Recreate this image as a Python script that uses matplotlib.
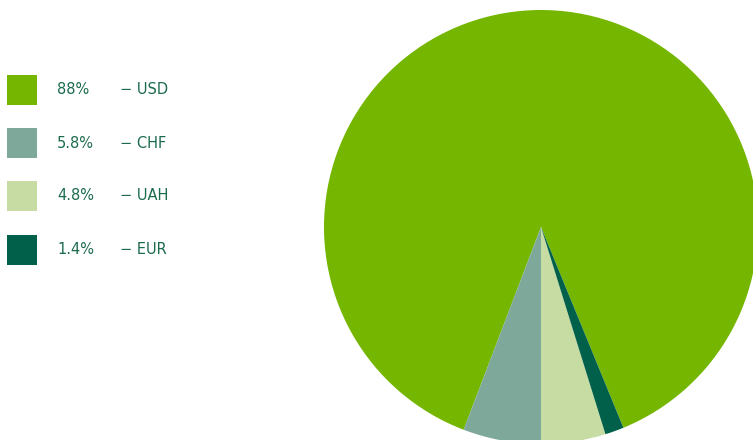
import matplotlib.pyplot as plt
from matplotlib.patches import Rectangle

# currency split
currencies = ['USD', 'CHF', 'UAH', 'EUR']
shares = [88, 5.8, 4.8, 1.4]
share_labels = ['88%', '5.8%', '4.8%', '1.4%']
colors = ['#74b600', '#7ea89a', '#c7dca2', '#00604a']
text_color = '#1c6b4d'

W, H = 753, 440
fig = plt.figure(figsize=(W / 100, H / 100), dpi=100)

# pie: centre at (541, 227) px, radius 217 px
cx, cy, r = 541, 227, 217
ax = fig.add_axes([(cx - r) / W, (H - cy - r) / H, 2 * r / W, 2 * r / H])
start = -90 + (shares[2] + shares[3]) / sum(shares) * 360
ax.pie(shares, colors=colors, startangle=start, counterclock=True,
       wedgeprops=dict(linewidth=0))
ax.set_xlim(-1, 1)
ax.set_ylim(-1, 1)
ax.set_aspect('equal')
ax.axis('off')

# legend drawn by hand on a pixel-space overlay
leg = fig.add_axes([0, 0, 1, 1])
leg.set_xlim(0, W)
leg.set_ylim(H, 0)
leg.axis('off')
rows_y = [90, 143, 196, 250]
for y, c, pct, cur in zip(rows_y, colors, share_labels, currencies):
    leg.add_patch(Rectangle((7, y - 15), 30, 30, color=c, lw=0))
    leg.text(57, y, pct, color=text_color, fontsize=10.5, va='center',
             family='DejaVu Sans')
    leg.text(120, y, '\u2212 ' + cur, color=text_color, fontsize=10.5,
             va='center', family='DejaVu Sans')

fig.savefig('out.png', dpi=100)
